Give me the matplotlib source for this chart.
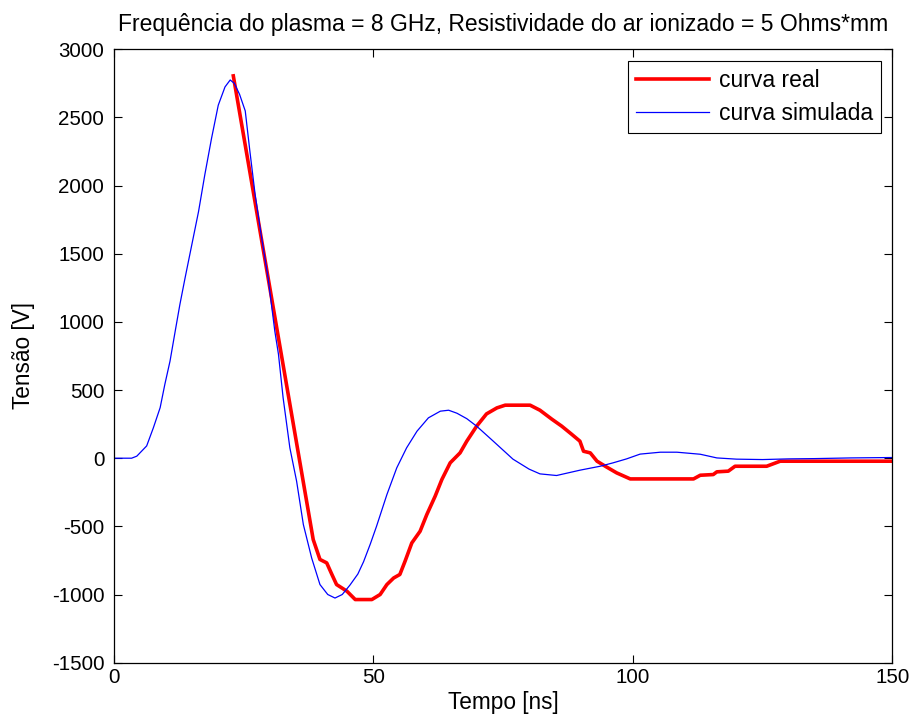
import matplotlib.pyplot as plt

plt.rcParams["font.family"] = ["Liberation Sans", "DejaVu Sans"]
plt.rcParams["axes.unicode_minus"] = False

# curva simulada (blue)
t_sim = [0, 3.4, 4.4, 6.3, 7.6, 8.9, 9.8, 10.8, 11.8, 12.7, 13.7, 15, 16.3,
         17.5, 18.8, 20.1, 21.4, 22.4, 23.2, 24.2, 25.3, 26.2, 27.2, 28.4,
         29.7, 31, 31.7, 32.6, 33.9, 35.2, 36.5, 38.1, 39.7, 41.2, 42.6, 44,
         45.5, 47, 48.1, 49.4, 50.6, 52.6, 54.5, 56.4, 58.4, 60.6, 62.9, 64.5,
         66.1, 68, 69.9, 73.1, 76.9, 80, 82.1, 85.3, 89.8, 93.7, 96.2, 98.8,
         101.4, 105.3, 108.5, 113, 116.2, 120, 125, 130, 135, 142, 150]
v_sim = [0, 0, 15, 90, 224, 371, 541, 712, 932, 1127, 1322, 1566, 1810, 2078,
         2346, 2590, 2724, 2775, 2750, 2670, 2548, 2250, 1936, 1630, 1324, 932,
         763, 443, 76, -169, -487, -732, -927, -1000, -1026, -1000, -930, -850,
         -760, -630, -500, -267, -71, 76, 198, 296, 345, 352, 330, 290, 235,
         125, -7, -80, -115, -127, -88, -59, -34, -5, 30, 44, 44, 29, 2, -7,
         -10, -5, -3, 2, 5]

# curva real (red)
t_real = [23, 38.4, 39.7, 41, 42, 42.9, 44.9, 46.5, 49.7, 51.3, 52.6, 53.9,
          55.1, 56.1, 57.4, 59, 60.3, 61.9, 63.2, 64.8, 66.7, 68, 69.9, 71.8,
          73.8, 75.4, 80.2, 82.1, 84.4, 86.3, 88.2, 89.8, 90.5, 91.8, 93.1, 95,
          96.9, 99.5, 111.7, 113, 115.5, 116.2, 118.4, 119.7, 125.8, 128.4, 150]
v_real = [2805, -597, -743, -768, -853, -927, -976, -1037, -1037, -1000, -927,
          -879, -853, -756, -622, -536, -413, -279, -156, -34, 39, 125, 235,
          325, 369, 389, 389, 352, 286, 235, 176, 125, 51, 39, -22, -66, -108,
          -152, -152, -125, -120, -100, -95, -59, -59, -22, -22]

fig = plt.figure(figsize=(9.14, 7.25), dpi=100)
ax = fig.add_axes([0.1247, 0.0860, 0.8515, 0.8460])

ax.plot(t_real, v_real, color="#ff0000", linewidth=2.6, label="curva real")
ax.plot(t_sim, v_sim, color="#0000ff", linewidth=0.9, label="curva simulada")

ax.set_xlim(0, 150)
ax.set_ylim(-1500, 3000)
ax.set_xticks([0, 50, 100, 150])
ax.set_yticks(range(-1500, 3001, 500))
ax.tick_params(direction="in", top=True, right=True, labelsize=14.8,
               length=5.5, width=0.8)
ax.tick_params(axis="y", pad=7)
ax.tick_params(axis="x", pad=4)
for s in ax.spines.values():
    s.set_linewidth(0.9)
ax.set_xlabel("Tempo [ns]", fontsize=16.3, labelpad=3)
ax.set_ylabel("Tensão [V]", fontsize=16.3, labelpad=12)
ax.set_title("Frequência do plasma = 8 GHz, Resistividade do ar ionizado = 5 Ohms*mm",
             fontsize=16.5, pad=13)

leg = ax.legend(loc="upper right", fontsize=16.5, fancybox=False, framealpha=1,
                edgecolor="black", handlelength=3.2, handletextpad=0.4,
                labelspacing=0.45, borderaxespad=0.5, borderpad=0.35)
leg.get_frame().set_linewidth(0.8)

fig.savefig("out.png", dpi=100)
